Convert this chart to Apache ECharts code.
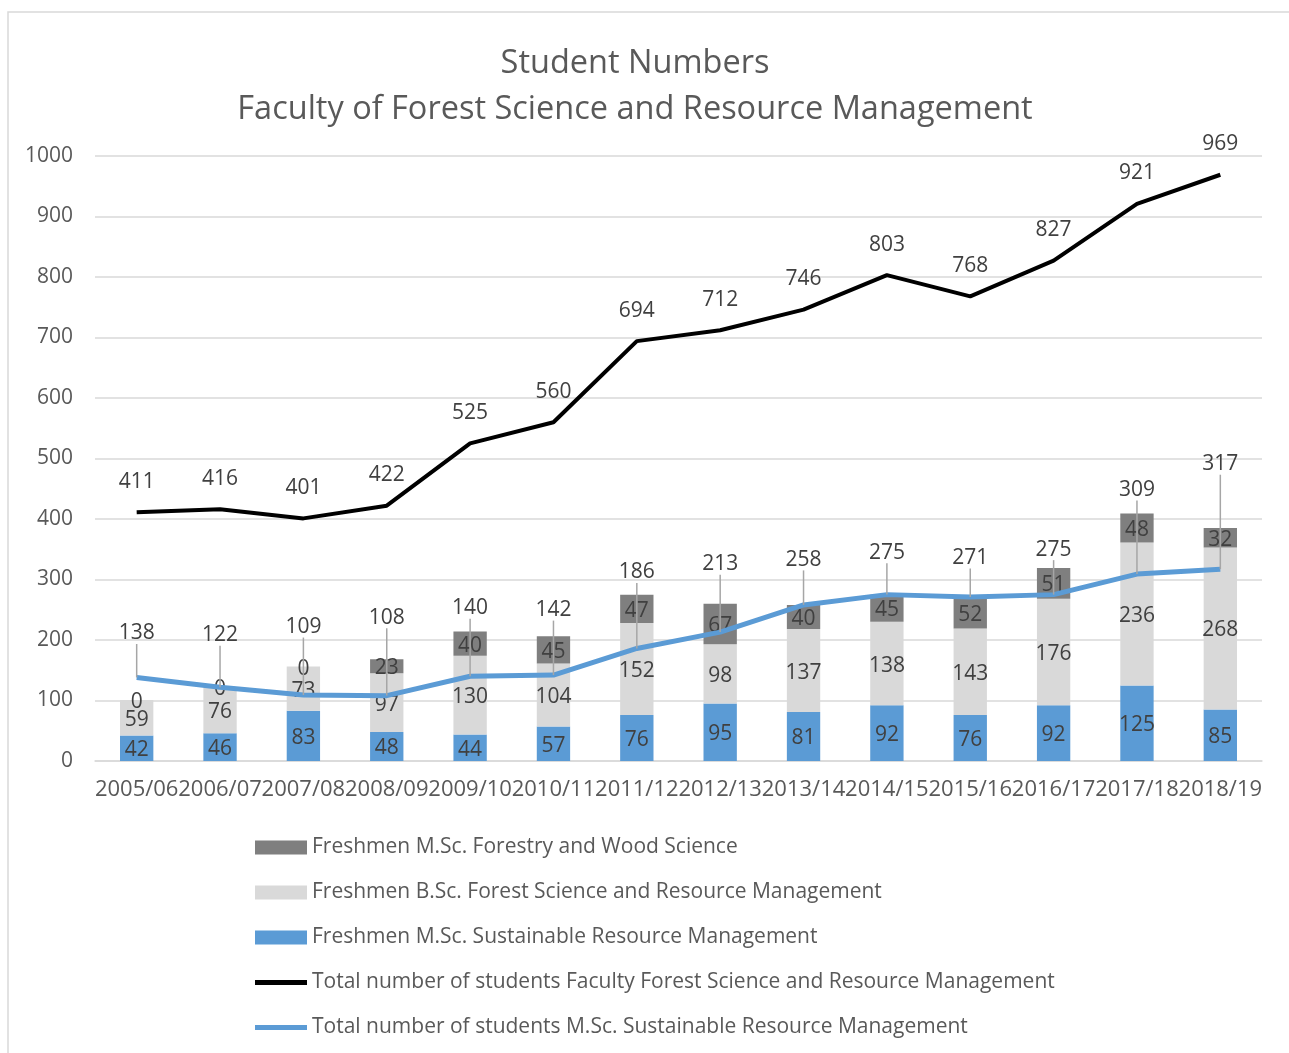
<!DOCTYPE html>
<html>
<head>
<meta charset="utf-8">
<script src="https://cdn.jsdelivr.net/npm/echarts@6/dist/echarts.min.js"></script>
<style>
  html, body { margin: 0; padding: 0; background: #fff; }
  #chart { width: 1289px; height: 1053px; }
</style>
</head>
<body>
<div id="chart"></div>
<script>
// chart data
var years = ['2005/06','2006/07','2007/08','2008/09','2009/10','2010/11','2011/12','2012/13','2013/14','2014/15','2015/16','2016/17','2017/18','2018/19'];
var freshSRM = [42, 46, 83, 48, 44, 57, 76, 95, 81, 92, 76, 92, 125, 85];
var freshBSc = [59, 76, 73, 97, 130, 104, 152, 98, 137, 138, 143, 176, 236, 268];
var freshForestry = [0, 0, 0, 23, 40, 45, 47, 67, 40, 45, 52, 51, 48, 32];
var totalFaculty = [411, 416, 401, 422, 525, 560, 694, 712, 746, 803, 768, 827, 921, 969];
var totalSRM = [138, 122, 109, 108, 140, 142, 186, 213, 258, 275, 271, 275, 309, 317];
var yTicks = [0, 1000, 100];

// how far the labels of the SRM total line are pulled up (px)
var srmLabelLift = [-44, -52, -68, -78, -68, -65, -76, -68, -45, -42, -39, -45, -84, -105];

var txt = '#595959';
var font = 'Open Sans';
var lineIcon = 'path://M0,0 L52,0 L52,5 L0,5 Z';

var barLabel = {
    show: true,
    position: 'inside',
    offset: [0, 2],
    color: '#404040',
    fontSize: 21,
    fontFamily: font
};

var option = {
    backgroundColor: '#fff',
    animation: false,
    title: {
        text: 'Student Numbers\nFaculty of Forest Science and Resource Management',
        left: 630,
        textAlign: 'center',
        top: 36,
        textStyle: {
            color: txt,
            fontSize: 32.5,
            fontWeight: 'normal',
            fontFamily: font,
            lineHeight: 46
        }
    },
    legend: {
        orient: 'vertical',
        left: 255,
        top: 837,
        padding: 0,
        itemGap: 24,
        itemWidth: 52,
        itemHeight: 14,
        textStyle: { color: txt, fontSize: 21, fontFamily: font, padding: [0, 0, 0, 0] },
        data: [
            { name: 'Freshmen M.Sc. Forestry and Wood Science', icon: 'rect' },
            { name: 'Freshmen B.Sc. Forest Science and Resource Management', icon: 'rect' },
            { name: 'Freshmen M.Sc. Sustainable Resource Management', icon: 'rect' },
            { name: 'Total number of students Faculty Forest Science and Resource Management', icon: lineIcon },
            { name: 'Total number of students M.Sc. Sustainable Resource Management', icon: lineIcon }
        ]
    },
    grid: { left: 95, right: 27, top: 156, bottom: 292 },
    xAxis: {
        type: 'category',
        data: years,
        axisLine: { lineStyle: { color: '#d9d9d9', width: 1.5 } },
        axisTick: { show: false },
        axisLabel: { color: txt, fontSize: 22, fontFamily: font, interval: 0, margin: 18 }
    },
    yAxis: {
        type: 'value',
        min: yTicks[0],
        max: yTicks[1],
        interval: yTicks[2],
        axisLine: { show: false },
        axisTick: { show: false },
        splitLine: { lineStyle: { color: '#d9d9d9', width: 1.5 } },
        axisLabel: {
            color: txt, fontSize: 21, fontFamily: font, margin: 22,
            formatter: function (v) { return String(v); }
        }
    },
    graphic: [{
        type: 'rect',
        shape: { x: 8, y: 12, width: 1300, height: 1100 },
        style: { fill: 'none', stroke: '#d9d9d9', lineWidth: 1.5 },
        silent: true
    }],
    series: [
        {
            name: 'Freshmen M.Sc. Sustainable Resource Management',
            type: 'bar',
            stack: 'fresh',
            barWidth: '40%',
            itemStyle: { color: '#5b9bd5' },
            label: barLabel,
            data: freshSRM
        },
        {
            name: 'Freshmen B.Sc. Forest Science and Resource Management',
            type: 'bar',
            stack: 'fresh',
            itemStyle: { color: '#d9d9d9' },
            label: barLabel,
            data: freshBSc
        },
        {
            name: 'Freshmen M.Sc. Forestry and Wood Science',
            type: 'bar',
            stack: 'fresh',
            itemStyle: { color: '#7f7f7f' },
            label: barLabel,
            data: freshForestry
        },
        {
            name: 'Total number of students Faculty Forest Science and Resource Management',
            type: 'line',
            data: totalFaculty,
            symbol: 'circle',
            symbolSize: 0.1,
            lineStyle: { color: '#000', width: 4 },
            itemStyle: { color: '#000' },
            label: {
                show: true,
                position: 'top',
                distance: 20,
                color: '#404040',
                fontSize: 21,
                fontFamily: font
            },
            z: 5
        },
        {
            name: 'Total number of students M.Sc. Sustainable Resource Management',
            type: 'line',
            data: totalSRM,
            symbol: 'circle',
            symbolSize: 0.1,
            lineStyle: { color: '#5b9bd5', width: 5 },
            itemStyle: { color: '#5b9bd5' },
            label: {
                show: true,
                position: 'inside',
                color: '#404040',
                fontSize: 21,
                fontFamily: font
            },
            labelLayout: function (p) {
                return { dy: srmLabelLift[p.dataIndex] };
            },
            labelLine: {
                show: true,
                lineStyle: { color: '#a6a6a6', width: 1.5 }
            },
            z: 6
        }
    ]
};

var chart = echarts.init(document.getElementById('chart'));
chart.setOption(option);
</script>
</body>
</html>
